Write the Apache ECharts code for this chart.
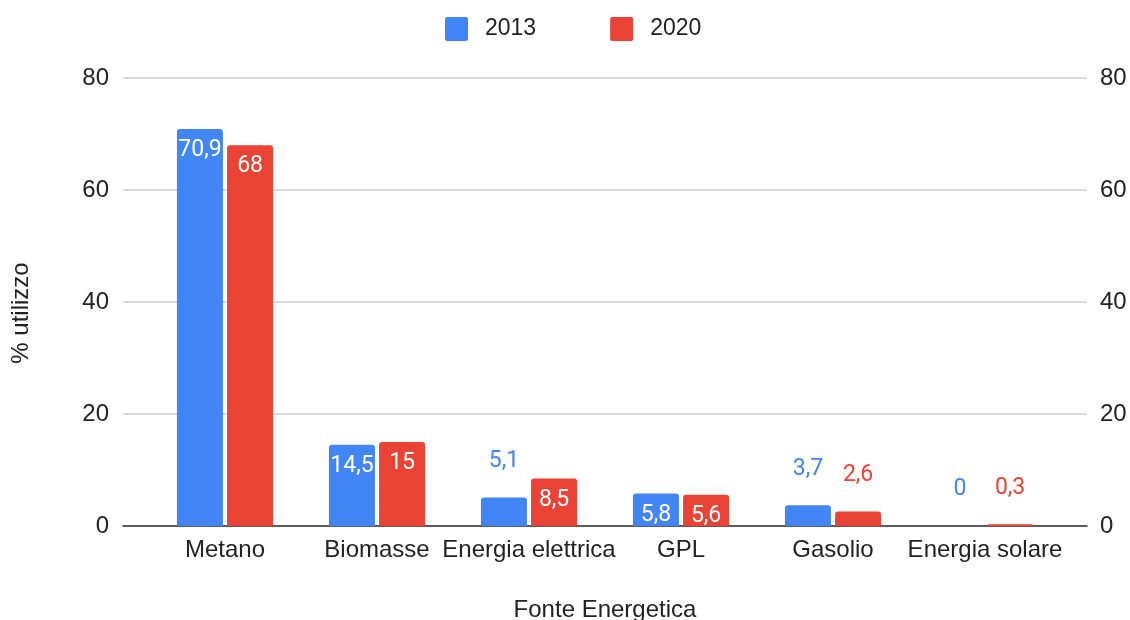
<!DOCTYPE html>
<html>
<head>
<meta charset="utf-8">
<script src="https://cdn.jsdelivr.net/npm/echarts@6/dist/echarts.min.js"></script>
<style>
  html, body { margin: 0; padding: 0; background: #fff; }
  #chart { width: 1130px; height: 620px; }
</style>
</head>
<body>
<div id="chart"></div>
<script>
// Fonti energetiche per il riscaldamento: quota di utilizzo (%)
const categories = ['Metano', 'Biomasse', 'Energia elettrica', 'GPL', 'Gasolio', 'Energia solare'];
const values2013 = [70.9, 14.5, 5.1, 5.8, 3.7, 0];
const values2020 = [68, 15, 8.5, 5.6, 2.6, 0.3];
const yTicks = [0, 20, 40, 60, 80];

const BLUE = '#4285F4';
const RED = '#EA4335';
const AXIS_FONT = "'Liberation Sans', Arial, sans-serif";
const LABEL_FONT = 'Roboto, sans-serif';
// bars shorter than this carry their value above instead of inside
const LABEL_INSIDE_MIN = 5.5;

const fmt = v => String(v).replace('.', ',');

function barData(values, color) {
  return values.map(v => {
    const inside = v >= LABEL_INSIDE_MIN;
    return {
      value: v,
      label: inside
        ? { position: 'insideTop', distance: 10, color: '#fff' }
        : { position: 'top', distance: 25, color: color }
    };
  });
}

const labelBase = {
  show: true,
  fontFamily: LABEL_FONT,
  fontSize: 23,
  formatter: p => fmt(p.value)
};

const legendIcon = 'path://M2,0 H21 Q23,0 23,2 V22 Q23,24 21,24 H2 Q0,24 0,22 V2 Q0,0 2,0 Z';
const axisText = { fontFamily: AXIS_FONT, fontSize: 24, color: '#222' };

const chart = echarts.init(document.getElementById('chart'), null, { renderer: 'canvas' });

chart.setOption({
  animation: false,
  backgroundColor: '#fff',
  legend: {
    top: 12,
    left: 440,
    itemWidth: 23,
    itemHeight: 24,
    itemGap: 74,
    icon: legendIcon,
    textStyle: { fontFamily: AXIS_FONT, fontSize: 23, color: '#222', padding: [0, 0, 0, 12] },
    data: ['2013', '2020']
  },
  grid: [
    { left: 123, right: 43, top: 78, bottom: 94, outerBoundsMode: 'none', containLabel: false },
    { left: 149, right: 69, top: 78, bottom: 94, outerBoundsMode: 'none', containLabel: false }
  ],
  xAxis: [
    {
      gridIndex: 0, type: 'category', data: [''],
      axisLine: { show: true, lineStyle: { color: '#333', width: 1.5 } },
      axisTick: { show: false }, axisLabel: { show: false }, splitLine: { show: false }
    },
    {
      gridIndex: 1, type: 'category', data: categories,
      axisLine: { show: false }, axisTick: { show: false },
      axisLabel: Object.assign({ interval: 0, margin: 12 }, axisText),
      name: 'Fonte Energetica', nameLocation: 'middle', nameGap: 72,
      nameTextStyle: axisText
    }
  ],
  yAxis: [
    {
      gridIndex: 0, type: 'value', position: 'left',
      min: yTicks[0], max: yTicks[yTicks.length - 1], interval: yTicks[1] - yTicks[0],
      axisLine: { show: false }, axisTick: { show: false },
      axisLabel: Object.assign({ margin: 14 }, axisText),
      splitLine: { lineStyle: { color: '#ccc', width: 1.5 } },
      name: '% utilizzo', nameLocation: 'middle', nameGap: 90, nameRotate: 90,
      nameTextStyle: Object.assign({ padding: [0, 22, 0, 0] }, axisText)
    },
    {
      gridIndex: 0, type: 'value', position: 'right',
      min: yTicks[0], max: yTicks[yTicks.length - 1], interval: yTicks[1] - yTicks[0],
      axisLine: { show: false }, axisTick: { show: false },
      axisLabel: Object.assign({ margin: 13 }, axisText),
      splitLine: { show: false }
    },
    {
      gridIndex: 1, type: 'value',
      min: yTicks[0], max: yTicks[yTicks.length - 1],
      show: false, splitLine: { show: false }
    }
  ],
  series: [
    {
      name: '2013', type: 'bar', xAxisIndex: 1, yAxisIndex: 2,
      barWidth: 46, barGap: '9%',
      itemStyle: { color: BLUE, borderRadius: [3, 3, 0, 0] },
      label: labelBase,
      data: barData(values2013, BLUE)
    },
    {
      name: '2020', type: 'bar', xAxisIndex: 1, yAxisIndex: 2,
      barWidth: 46, barGap: '9%',
      itemStyle: { color: RED, borderRadius: [3, 3, 0, 0] },
      label: labelBase,
      data: barData(values2020, RED)
    }
  ]
});
</script>
</body>
</html>
